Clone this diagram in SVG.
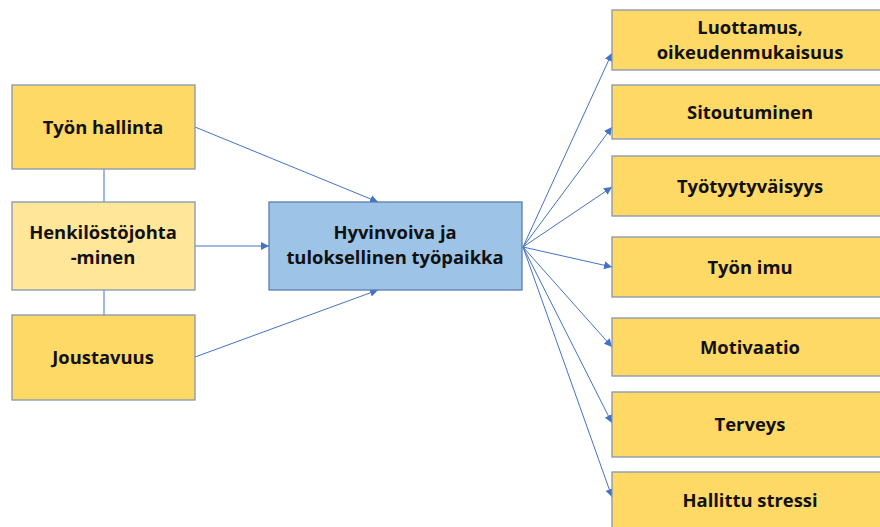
<svg xmlns="http://www.w3.org/2000/svg" width="880" height="527" viewBox="0 0 880 527">
<style>
.box{fill:#FFD966;stroke:#8497B0;stroke-width:1.3}
.light{fill:#FFE699;stroke:#8497B0;stroke-width:1.3}
.blue{fill:#9DC3E6;stroke:#5B7DB1;stroke-width:1.3}
text{font-family:"Open Sans","Liberation Sans",Arial,sans-serif;font-weight:bold;font-size:18.4px;fill:#111;text-anchor:middle}
.c{stroke:#4472C4;stroke-width:1;fill:none}
</style>
<defs>
<marker id="ah" viewBox="0 0 10 10" refX="10" refY="5" markerWidth="8" markerHeight="8" markerUnits="userSpaceOnUse" orient="auto">
<path d="M0,0 L10,5 L0,10 z" fill="#4472C4"/>
</marker>
</defs>
<rect width="880" height="527" fill="#fff"/>
<g id="connectors">
<line class="c" x1="104" y1="169" x2="104" y2="202"/>
<line class="c" x1="104" y1="290" x2="104" y2="315"/>
<line class="c" x1="195" y1="127" x2="378" y2="202" marker-end="url(#ah)"/>
<line class="c" x1="195" y1="246" x2="269" y2="246" marker-end="url(#ah)"/>
<line class="c" x1="195" y1="357" x2="378" y2="290" marker-end="url(#ah)"/>
<line class="c" x1="523" y1="247" x2="612" y2="53" marker-end="url(#ah)"/>
<line class="c" x1="523" y1="247" x2="612" y2="127" marker-end="url(#ah)"/>
<line class="c" x1="523" y1="247" x2="612" y2="187" marker-end="url(#ah)"/>
<line class="c" x1="523" y1="247" x2="612" y2="267" marker-end="url(#ah)"/>
<line class="c" x1="523" y1="247" x2="612" y2="347" marker-end="url(#ah)"/>
<line class="c" x1="523" y1="247" x2="612" y2="423" marker-end="url(#ah)"/>
<line class="c" x1="523" y1="247" x2="612" y2="497" marker-end="url(#ah)"/>
</g>
<g id="tyon-hallinta"><rect class="box" x="12" y="85" width="183" height="84"/><text x="103" y="134">Työn hallinta</text></g>
<g id="henkilostojohtaminen"><rect class="light" x="12" y="202" width="183" height="88"/><text x="103" y="239">Henkilöstöjohta</text><text x="103" y="264">-minen</text></g>
<g id="joustavuus"><rect class="box" x="12" y="315" width="183" height="85"/><text x="103" y="364">Joustavuus</text></g>
<g id="hyvinvoiva"><rect class="blue" x="269" y="202" width="253" height="88"/><text x="395" y="239">Hyvinvoiva ja</text><text x="395" y="264">tuloksellinen työpaikka</text></g>
<g id="luottamus"><rect class="box" x="612" y="10" width="280" height="60"/><text x="750" y="34">Luottamus,</text><text x="750" y="59">oikeudenmukaisuus</text></g>
<g id="sitoutuminen"><rect class="box" x="612" y="85" width="280" height="54"/><text x="750" y="119">Sitoutuminen</text></g>
<g id="tyotyytyvaisyys"><rect class="box" x="612" y="156" width="280" height="60"/><text x="750" y="193">Työtyytyväisyys</text></g>
<g id="tyon-imu"><rect class="box" x="612" y="237" width="280" height="60"/><text x="750" y="274">Työn imu</text></g>
<g id="motivaatio"><rect class="box" x="612" y="318" width="280" height="58"/><text x="750" y="354">Motivaatio</text></g>
<g id="terveys"><rect class="box" x="612" y="392" width="280" height="65"/><text x="750" y="431">Terveys</text></g>
<g id="hallittu-stressi"><rect class="box" x="612" y="472" width="280" height="70"/><text x="750" y="507">Hallittu stressi</text></g>
</svg>
